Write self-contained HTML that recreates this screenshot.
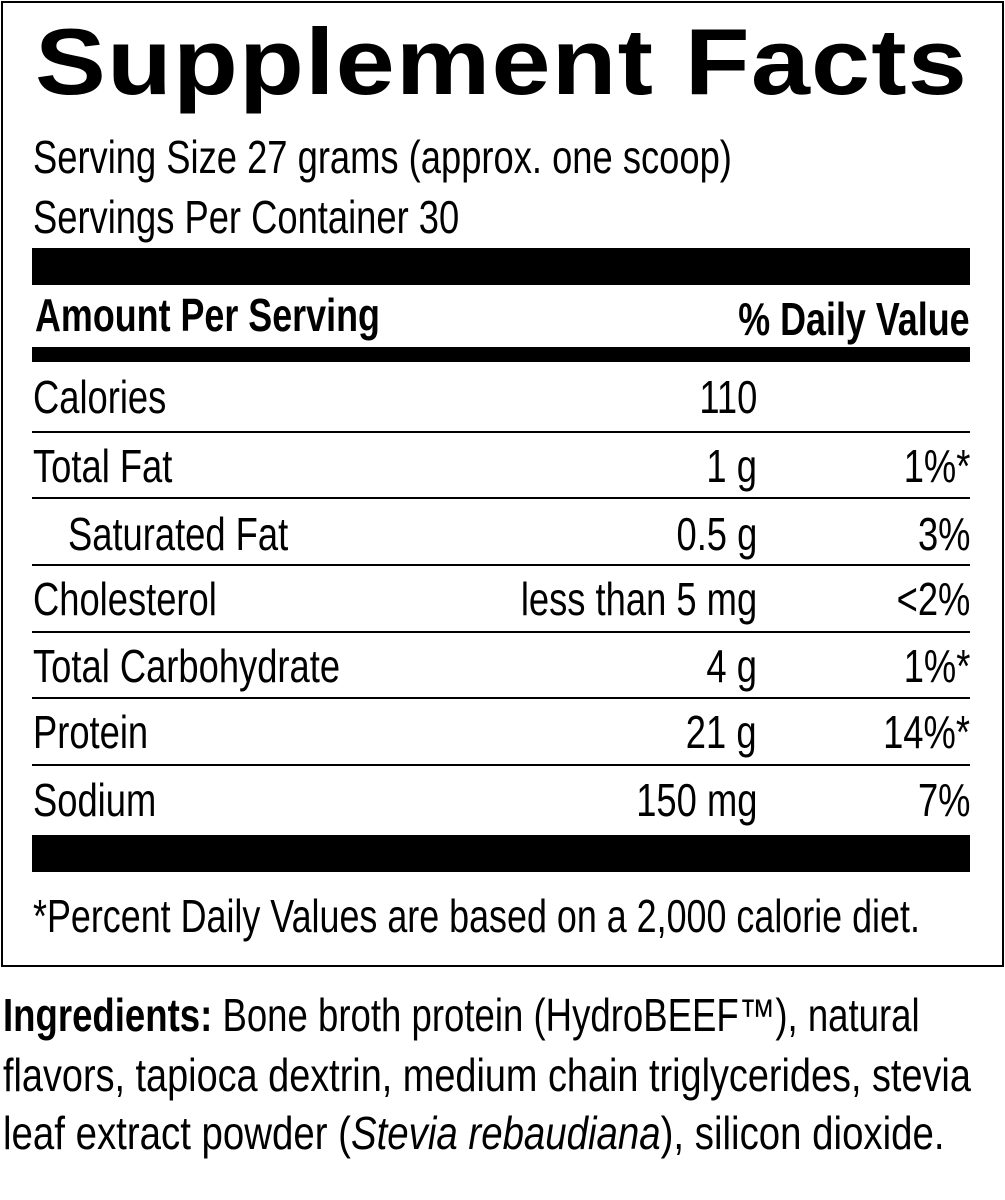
<!DOCTYPE html>
<html><head><meta charset="utf-8"><style>
body{margin:0;width:1005px;height:1200px;background:#fff;position:relative;overflow:hidden;font-family:"Liberation Sans",sans-serif;color:#000}
.box{position:absolute;left:1px;top:1px;width:999px;height:962px;border:2px solid #000}
.t{position:absolute;font-size:46px;line-height:46px;white-space:nowrap;transform:scaleX(0.79);transform-origin:left top}
.r{transform-origin:right top;text-align:right}
.bar{position:absolute;left:32px;width:938px;background:#000}
.ln{position:absolute;left:32px;width:938px;height:2px;background:#000}
b{font-weight:bold}
</style></head><body>
<div class="box"></div>
<div style="position:absolute;left:35px;top:12px;font-size:94px;font-weight:bold;line-height:100px;white-space:nowrap;letter-spacing:1px;transform:scaleX(1.13);transform-origin:left top">Supplement Facts</div>
<div class="t" style="left:33px;top:134px">Serving Size 27 grams (approx. one scoop)</div>
<div class="t" style="left:33px;top:194px">Servings Per Container 30</div>
<div class="bar" style="top:248px;height:37px"></div>
<div class="t" style="left:35px;top:292px;font-weight:bold;transform:scaleX(0.78)">Amount Per Serving</div>
<div class="t r" style="right:35px;top:296px;font-weight:bold;transform:scaleX(0.78)">% Daily Value</div>
<div class="bar" style="top:347px;height:15px"></div>

<div class="t" style="left:33px;top:374px">Calories</div>
<div class="t r" style="right:248px;top:374px">110</div>
<div class="ln" style="top:431px"></div>

<div class="t" style="left:33px;top:443px">Total Fat</div>
<div class="t r" style="right:248px;top:443px">1 g</div>
<div class="t r" style="right:35px;top:443px">1%*</div>
<div class="ln" style="top:497px"></div>

<div class="t" style="left:68px;top:511px">Saturated Fat</div>
<div class="t r" style="right:248px;top:511px">0.5 g</div>
<div class="t r" style="right:35px;top:511px">3%</div>
<div class="ln" style="top:564px"></div>

<div class="t" style="left:33px;top:576px">Cholesterol</div>
<div class="t r" style="right:248px;top:576px">less than 5 mg</div>
<div class="t r" style="right:35px;top:576px">&lt;2%</div>
<div class="ln" style="top:631px"></div>

<div class="t" style="left:33px;top:643px">Total Carbohydrate</div>
<div class="t r" style="right:248px;top:643px">4 g</div>
<div class="t r" style="right:35px;top:643px">1%*</div>
<div class="ln" style="top:697px"></div>

<div class="t" style="left:33px;top:709px">Protein</div>
<div class="t r" style="right:248px;top:709px">21 g</div>
<div class="t r" style="right:35px;top:709px">14%*</div>
<div class="ln" style="top:764px"></div>

<div class="t" style="left:33px;top:777px">Sodium</div>
<div class="t r" style="right:248px;top:777px">150 mg</div>
<div class="t r" style="right:35px;top:777px">7%</div>
<div class="bar" style="top:835px;height:37px"></div>

<div class="t" style="left:33px;top:893px;transform:scaleX(0.78)">*Percent Daily Values are based on a 2,000 calorie diet.</div>

<div class="t" style="left:3px;top:992px;transform:scaleX(0.795)"><b>Ingredients:</b> Bone broth protein (HydroBEEF™), natural</div>
<div class="t" style="left:3px;top:1052px;transform:scaleX(0.823)">flavors, tapioca dextrin, medium chain triglycerides, stevia</div>
<div class="t" style="left:3px;top:1110px;transform:scaleX(0.835)">leaf extract powder (<i>Stevia rebaudiana</i>), silicon dioxide.</div>
</body></html>
